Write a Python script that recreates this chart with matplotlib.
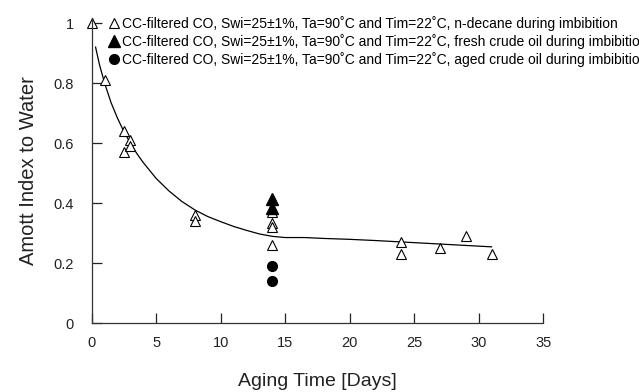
import matplotlib
matplotlib.use("Agg")
import matplotlib.pyplot as plt

plt.rcParams['font.family'] = ['Liberation Sans', 'DejaVu Sans']

# n-decane during imbibition (open triangles)
decane_days = [0, 1, 2.5, 2.5, 3, 3, 8, 8, 14, 14, 14, 14, 24, 24, 27, 29, 31]
decane_amott = [1.0, 0.81, 0.64, 0.57, 0.61, 0.59, 0.36, 0.34, 0.37, 0.335, 0.32, 0.26,
                0.27, 0.23, 0.25, 0.29, 0.23]

# fresh crude oil during imbibition (filled triangles)
fresh_days = [14, 14]
fresh_amott = [0.415, 0.385]

# aged crude oil during imbibition (filled circles)
aged_days = [14, 14]
aged_amott = [0.19, 0.14]

# trend line
fit_days = [0.3, 0.6, 1, 1.5, 2, 2.5, 3, 3.5, 4, 5, 6, 7, 8, 9, 10, 11, 12, 13, 14,
            15, 16.5, 18, 20, 22, 25, 28, 31]
fit_amott = [0.92, 0.862, 0.80, 0.735, 0.683, 0.638, 0.60, 0.565, 0.535, 0.482, 0.44,
             0.405, 0.377, 0.355, 0.338, 0.322, 0.309, 0.297, 0.289, 0.285, 0.285,
             0.282, 0.279, 0.275, 0.268, 0.261, 0.254]

labels = [
    "CC-filtered CO, Swi=25\u00b11%, Ta=90\u02daC and Tim=22\u02daC, n-decane during imbibition",
    "CC-filtered CO, Swi=25\u00b11%, Ta=90\u02daC and Tim=22\u02daC, fresh crude oil during imbibition",
    "CC-filtered CO, Swi=25\u00b11%, Ta=90\u02daC and Tim=22\u02daC, aged crude oil during imbibition",
]

fig = plt.figure(figsize=(6.39, 3.92), dpi=100)
ax = fig.add_axes([0.1435, 0.176, 0.7065, 0.778])

ax.plot(fit_days, fit_amott, color='black', lw=0.9)
h1, = ax.plot(decane_days, decane_amott, ls='none', marker='^', ms=7.5,
              mfc='white', mec='black', mew=0.8, clip_on=False)
h2, = ax.plot(fresh_days, fresh_amott, ls='none', marker='^', ms=8.5,
              mfc='black', mec='black', clip_on=False)
h3, = ax.plot(aged_days, aged_amott, ls='none', marker='o', ms=7,
              mfc='black', mec='black', clip_on=False)

ax.set_xlim(0, 35)
ax.set_ylim(0, 1.017)
ax.set_xticks([0, 5, 10, 15, 20, 25, 30, 35])
ax.set_yticks([0, 0.2, 0.4, 0.6, 0.8, 1.0])
ax.set_yticklabels(['0', '0.2', '0.4', '0.6', '0.8', '1'])
ax.tick_params(direction='in', length=7, width=0.9, labelsize=10.5, colors='#222222')
ax.tick_params(axis='x', pad=9)
ax.tick_params(axis='y', pad=13)
for side in ['top', 'right']:
    ax.spines[side].set_visible(False)
for side in ['left', 'bottom']:
    ax.spines[side].set_linewidth(0.9)
    ax.spines[side].set_color('#333333')

ax.set_xlabel('Aging Time [Days]', fontsize=14, labelpad=17, color='#222222')
ax.set_ylabel('Amott Index to Water', fontsize=14.5, labelpad=11, color='#222222')

leg = fig.legend([h1, h2, h3], labels, loc='upper left', bbox_to_anchor=(0.172, 0.959),
                 frameon=False, fontsize=10, handletextpad=0.25, handlelength=0.6,
                 labelspacing=0.2, borderaxespad=0, borderpad=0)
leg.legend_handles[0].set_markersize(6.5)

fig.savefig('out.png', dpi=100)
